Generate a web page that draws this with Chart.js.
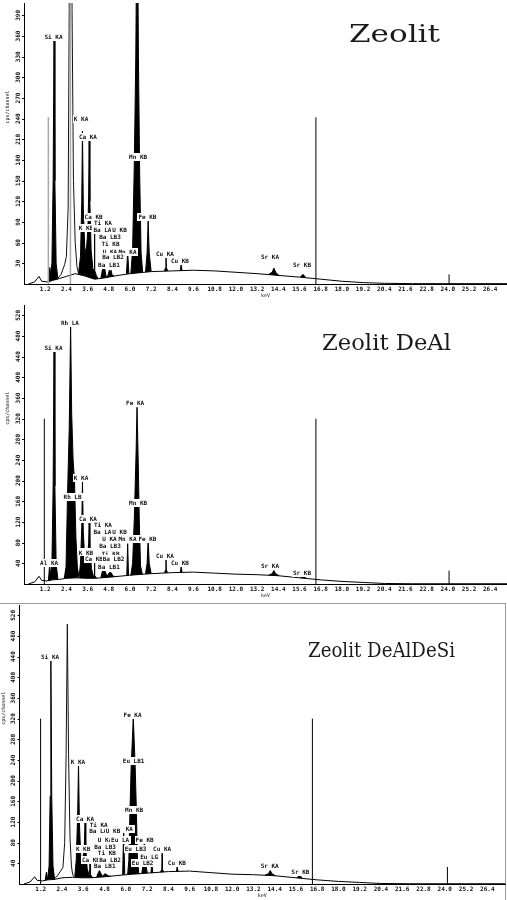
<!DOCTYPE html>
<html>
<head>
<meta charset="utf-8">
<script src="https://cdn.jsdelivr.net/npm/chart.js@4.4.1/dist/chart.umd.min.js"></script>
<style>
  html, body { margin: 0; padding: 0; background: #fff; }
  #wrap { position: relative; width: 507px; height: 900px; overflow: hidden; }
  #wrap canvas { position: absolute; left: 0; }
  .ttl { position: absolute; font-family: 'DejaVu Serif', 'Liberation Serif', serif; color: #1a1a1a;
         white-space: nowrap; line-height: 1; transform-origin: 0 0; }
  #frame { position: absolute; left: 0; top: 603px; width: 505px; height: 296px;
           border-top: 1px solid #9a9a9a; border-right: 1px solid #9a9a9a; }
</style>
</head>
<body>
<div id="wrap">
  <div id="frame"></div>
  <canvas id="c1" width="507" height="300" style="top:0px"></canvas>
  <canvas id="c2" width="507" height="300" style="top:300px"></canvas>
  <canvas id="c3" width="507" height="300" style="top:600px"></canvas>
  <div class="ttl" id="t1">Zeolit</div>
  <div class="ttl" id="t2">Zeolit DeAl</div>
  <div class="ttl" id="t3">Zeolit DeAlDeSi</div>
</div>
<script>
// ---- axis ticks (keV and cps/channel) ----
const xTickLabels = ['1.2','2.4','3.6','4.8','6.0','7.2','8.4','9.6','10.8','12.0','13.2','14.4',
                     '15.6','16.8','18.0','19.2','20.4','21.6','22.8','24.0','25.2','26.4'];
const yTicksZeolit = [30,60,90,120,150,180,210,240,270,300,330,360,390];
const yTicksDeAl   = [40,80,120,160,200,240,280,320,360,400,440,480,520];

// ---- Zeolit: spectrum [keV, cps/channel] ----
const background1 = [[0.25,0],[0.6,3],[0.85,11],[1.0,4],[1.3,3],[1.6,5],[2.0,8],[2.4,11],[2.9,15],[3.4,12],
  [4.0,7],[4.6,9],[5.2,12],[6.0,15],[7.2,18],[8.4,19],[9.6,20],[10.8,19],[12.0,17],[13.2,15],[14.4,12.5],
  [15.6,10],[16.8,7],[18.0,4],[19.2,2],[20.4,1],[22.0,0.5],[27.6,0.5]];
const peaks1 = [
  [[1.40,3],[1.46,24],[1.52,4]],
  [[1.45,4],[1.58,30],[1.65,150],[1.70,354],[1.75,150],[1.82,30],[1.92,7]],
  [[3.08,14],[3.20,40],[3.27,120],[3.31,222],[3.36,110],[3.45,45],[3.55,55],[3.62,80],[3.66,130],[3.69,208],
   [3.73,120],[3.80,50],[3.90,22],[3.97,20],[3.99,97],[4.01,20],[4.10,12],[4.20,8]],
  [[4.35,8],[4.45,22],[4.47,56],[4.49,24],[4.51,28],[4.57,22],[4.66,10],[4.75,12],[4.83,20],[4.88,16],[4.93,20],[5.00,12],[5.10,12]],
  [[5.80,15],[5.87,47],[5.94,15]],
  [[6.05,15],[6.15,50],[6.25,180],[6.33,330],[6.41,600],[6.48,330],[6.55,160],[6.63,45],[6.72,17]],
  [[6.88,17],[6.97,45],[7.03,92],[7.09,45],[7.20,18]],
  [[7.95,19],[8.02,24],[8.04,38],[8.06,24],[8.14,19]],
  [[8.85,19],[8.90,30],[8.95,19]],
  [[13.85,14],[14.05,17],[14.15,23],[14.25,17],[14.45,12]],
  [[15.65,10],[15.80,14],[15.95,9.5]]
];
const scatter1 = [[1.90,8],[2.10,14],[2.30,28],[2.40,40],[2.50,110],[2.56,400],[2.64,800],[2.72,400],[2.80,150],
  [2.90,60],[3.00,25],[3.10,14]];
const markersGrey1 = [[1.38,242],[2.63,800]];
const markers1 = [[16.53,242],[24.07,14]];
const labels1 = [
  ['Si KA',1.67,358],['K KA',3.23,239],['Ca KA',3.62,213],['Mn KB',6.46,184],['Ca KB',3.94,97],['Fe KB',6.99,97],
  ['Ti KA',4.47,88],['K KB',3.51,82],['Ba LA',4.44,78],['U KB',5.41,78],['Ba LB3',4.87,68],['Ti KB',4.90,58],
  ['U KA',4.87,47],['Mn KA',5.86,47],['Ba LB2',5.04,39],['Ba LB1',4.81,27],['Cu KA',7.98,43],['Cu KB',8.83,33],
  ['Sr KA',13.93,39],['Sr KB',15.74,27]
];

// ---- Zeolit DeAl ----
const background2 = [[0.25,0],[0.6,4],[0.85,15],[1.0,7],[1.3,6],[1.6,8],[2.0,9],[2.4,11],[3.0,12],[3.5,11],
  [4.0,11],[4.8,13],[6.0,17],[7.2,20],[8.4,22],[9.6,23],[10.8,21],[12.0,19],[13.2,18],[14.4,16],[15.6,12],
  [16.8,8],[18.0,5],[19.2,3],[20.4,1],[22.0,0.5],[27.6,0.5]];
const peaks2 = [
  [[1.38,6],[1.45,36],[1.52,7]],
  [[1.45,6],[1.58,40],[1.65,190],[1.70,452],[1.75,190],[1.82,40],[1.92,8]],
  [[2.28,11],[2.38,33],[2.47,180],[2.56,300],[2.64,500],[2.70,330],[2.78,240],[2.86,200],[2.94,90],[3.02,33],[3.10,15]],
  [[3.12,14],[3.20,40],[3.27,110],[3.31,200],[3.36,100],[3.45,40],[3.55,45],[3.62,60],[3.66,80],[3.69,120],
   [3.73,70],[3.82,30],[3.92,16],[3.97,16],[3.99,55],[4.01,16],[4.12,11]],
  [[4.35,12],[4.45,26],[4.47,90],[4.49,28],[4.53,32],[4.60,24],[4.70,15],[4.83,22],[4.93,22],[5.05,15],[5.15,15]],
  [[5.82,17],[5.87,78],[5.92,17]],
  [[6.05,17],[6.15,40],[6.25,130],[6.35,260],[6.40,342],[6.46,250],[6.53,120],[6.60,35],[6.70,19]],
  [[6.88,20],[6.97,40],[7.03,86],[7.09,40],[7.20,20]],
  [[7.95,22],[8.02,27],[8.04,50],[8.06,27],[8.14,22]],
  [[8.85,23],[8.90,33],[8.95,23]],
  [[13.85,17],[14.05,20],[14.15,26],[14.25,20],[14.45,16]],
  [[15.65,12],[15.80,17],[15.95,12]]
];
const markers2 = [[1.15,320],[16.53,320],[24.07,26]];
const labels2 = [
  ['Al KA',1.42,41],['Si KA',1.67,456],['Rh LA',2.60,505],['K KA',3.23,206],['Rh LB',2.75,168],['Ca KA',3.62,125],
  ['Fe KA',6.29,350],['Mn KB',6.46,156],['Ti KA',4.47,114],['Ba LA',4.44,101],['U KB',5.41,101],['U KA',4.84,87],
  ['Mn KA',5.86,87],['Fe KB',6.99,87],['Ba LB3',4.87,73],['K KB',3.51,61],['Ti KB',4.90,59],['Ca KB',3.96,48],
  ['Ba LB2',5.07,48],['Ba LB1',4.81,33],['Cu KA',7.98,54],['Cu KB',8.83,40],['Sr KA',13.93,34],['Sr KB',15.74,21]
];

// ---- Zeolit DeAlDeSi ----
const background3 = [[0.25,0],[0.6,4],[0.85,14],[1.0,7],[1.3,6],[1.6,8],[2.0,9],[2.4,12],[3.0,13],[3.5,12],
  [4.0,12],[4.8,14],[6.0,18],[7.2,21],[8.4,24],[9.6,25],[10.8,22],[12.0,19],[13.2,18],[14.4,16],[15.6,12],
  [16.8,8],[18.0,5],[19.2,3],[20.4,1],[22.0,0.5],[27.6,0.5]];
const peaks3 = [
  [[1.45,7],[1.52,23],[1.58,8]],
  [[1.58,8],[1.67,35],[1.73,170],[1.77,434],[1.82,170],[1.89,35],[1.98,9]],
  [[3.12,15],[3.20,45],[3.28,130],[3.33,233],[3.38,120],[3.46,50],[3.55,45],[3.62,60],[3.66,75],[3.70,120],
   [3.74,70],[3.82,30],[3.92,18],[3.96,18],[3.98,45],[4.00,18],[4.12,13]],
  [[4.35,13],[4.45,22],[4.51,26],[4.57,22],[4.68,15],[4.83,20],[4.93,18],[5.05,15],[5.15,15]],
  [[5.82,18],[5.88,107],[5.94,18]],
  [[6.10,18],[6.17,45],[6.24,150],[6.30,225],[6.37,280],[6.42,323],[6.47,280],[6.53,225],[6.59,150],[6.66,45],[6.74,19]],
  [[6.90,20],[6.98,40],[7.05,85],[7.11,40],[7.22,21]],
  [[7.42,21],[7.47,46],[7.52,21]],
  [[7.95,23],[8.03,28],[8.05,59],[8.07,28],[8.15,23]],
  [[8.85,24],[8.90,33],[8.95,24]],
  [[13.85,17],[14.05,20],[14.15,26],[14.25,20],[14.45,16]],
  [[15.65,12],[15.80,17],[15.95,12]]
];
const scatter3 = [[1.90,9],[2.10,14],[2.30,24],[2.45,32],[2.55,80],[2.63,250],[2.70,503],[2.77,250],[2.85,90],
  [2.93,35],[3.00,18],[3.10,13]];
const markers3 = [[1.19,320],[16.53,320],[24.15,33]];
const labels3 = [
  ['Si KA',1.73,439],['K KA',3.30,237],['Ca KA',3.70,125],['Fe KA',6.38,328],['Eu LB1',6.44,238],['Mn KB',6.47,144],
  ['Mn KA',5.89,107],['Ti KA',4.47,114],['Ba LA',4.44,103],['U KB',5.28,103],['U KA',4.83,85],['Eu LA',5.68,85],
  ['Fe KB',7.06,85],['Ba LB3',4.83,72],['K KB',3.59,68],['Eu LB3',6.55,67],['Cu KA',8.05,67],['Ti KB',4.93,60],
  ['Eu LG',7.32,53],['Ca KB',4.03,47],['Ba LB2',5.11,47],['Eu LB2',6.95,41],['Cu KB',8.88,41],['Ba LB1',4.81,34],
  ['Sr KA',14.12,34],['Sr KB',15.85,23]
];

// ---- helpers ----
const pts = arr => arr.map(([x, y]) => ({ x, y }));
function joinSegments(list) {
  const out = [];
  list.forEach((seg, i) => {
    if (i > 0) out.push({ x: seg[0][0], y: null });
    seg.forEach(([x, y]) => out.push({ x, y }));
  });
  return out;
}
function stems(list) {
  const out = [];
  list.forEach(([x, h], i) => {
    if (i > 0) out.push({ x, y: null });
    out.push({ x, y: 0 }, { x, y: h });
  });
  return out;
}

const MONO = '"DejaVu Sans Mono", "Liberation Mono", monospace';

function annotations(yTicks, labels) {
  return {
    id: 'annot',
    afterDatasetsDraw(chart) {
      const { ctx, chartArea: a, scales: { x, y } } = chart;
      ctx.save();
      ctx.fillStyle = '#111';
      ctx.textAlign = 'center';
      ctx.textBaseline = 'middle';
      // rotated count ticks
      ctx.font = 'bold 6px ' + MONO;
      yTicks.forEach(v => {
        const py = y.getPixelForValue(v);
        ctx.save();
        ctx.translate(a.left - 6, py);
        ctx.rotate(-Math.PI / 2);
        ctx.fillText(String(v), 0, 0);
        ctx.restore();
        ctx.fillRect(a.left - 2, Math.round(py), 2, 1);
      });
      // axis title
      ctx.save();
      ctx.font = '5px ' + MONO;
      ctx.translate(a.left - 16, a.top + (a.bottom - a.top) * 0.37);
      ctx.rotate(-Math.PI / 2);
      ctx.fillText('cps/channel', 0, 0);
      ctx.restore();
      // element line labels
      ctx.font = 'bold 6px ' + MONO;
      labels.forEach(([t, e, c]) => {
        const px = x.getPixelForValue(e), py = y.getPixelForValue(c);
        const w = ctx.measureText(t).width;
        ctx.fillStyle = '#fff';
        ctx.fillRect(Math.round(px - w / 2 - 1), Math.round(py - 4), Math.ceil(w + 2), 8);
        ctx.fillStyle = '#111';
        ctx.fillText(t, px, py + 0.5);
      });
      ctx.restore();
    }
  };
}

function spectrum(id, cfg) {
  const datasets = [
    { data: pts(cfg.background), borderColor: '#000', borderWidth: 1, pointRadius: 0, fill: false, order: 3 },
    { data: joinSegments(cfg.peaks), borderColor: '#000', backgroundColor: '#000', borderWidth: 1,
      pointRadius: 0, spanGaps: false, fill: 0, order: 2 },
    { data: stems(cfg.markers), borderColor: '#000', borderWidth: 1, pointRadius: 0, spanGaps: false, fill: false, order: 1 }
  ];
  if (cfg.scatter) datasets.push({ data: pts(cfg.scatter), borderColor: '#111', borderWidth: 1,
    pointRadius: 0, fill: false, order: 1 });
  if (cfg.greyMarkers) datasets.push({ data: stems(cfg.greyMarkers), borderColor: '#a8a8a8', borderWidth: 1.5,
    pointRadius: 0, spanGaps: false, fill: false, order: 0 });

  new Chart(document.getElementById(id), {
    type: 'line',
    data: { datasets },
    options: {
      responsive: false, animation: false, devicePixelRatio: 1,
      elements: { line: { tension: 0 } },
      layout: { padding: { top: cfg.top, left: cfg.left, right: cfg.right, bottom: 0 } },
      plugins: { legend: { display: false }, tooltip: { enabled: false } },
      scales: {
        x: {
          type: 'linear', min: 0, max: cfg.xMax,
          afterBuildTicks: s => { s.ticks = xTickLabels.map(t => ({ value: parseFloat(t) })); },
          afterFit: s => { s.height = 16; },
          grid: { display: false, drawTicks: false },
          border: { display: true, color: '#000', width: 1 },
          ticks: { autoSkip: false, maxRotation: 0, minRotation: 0, padding: 2, color: '#111',
                   font: { family: MONO, size: 6, weight: 'bold' },
                   callback: (v, i) => xTickLabels[i] },
          title: { display: true, text: 'keV', color: '#111', padding: { top: 0, bottom: 1 },
                   font: { family: MONO, size: 5 } }
        },
        y: {
          type: 'linear', min: 0, max: cfg.yMax,
          afterFit: s => { s.width = 0; },
          ticks: { display: false },
          grid: { display: false, drawTicks: false },
          border: { display: true, color: '#000', width: 1 }
        }
      }
    },
    plugins: [annotations(cfg.yTicks, cfg.labels)]
  });
}

spectrum('c1', { background: background1, peaks: peaks1, scatter: scatter1, markers: markers1,
  greyMarkers: markersGrey1, labels: labels1, yTicks: yTicksZeolit, yMax: 408, xMax: 27.35,
  top: 3, left: 24, right: 0 });
spectrum('c2', { background: background2, peaks: peaks2, markers: markers2, labels: labels2,
  yTicks: yTicksDeAl, yMax: 540, xMax: 27.35, top: 5, left: 24, right: 0 });
spectrum('c3', { background: background3, peaks: peaks3, scatter: scatter3, markers: markers3, labels: labels3,
  yTicks: yTicksDeAl, yMax: 540, xMax: 27.4, top: 5, left: 19.5, right: 2 });

// panel headings, fitted to their boxes
function fitTitle(id, left, capTop, capH, width) {
  const el = document.getElementById(id);
  const size = capH / 0.729;
  el.style.fontSize = size + 'px';
  el.style.left = left + 'px';
  el.style.top = (capTop - 0.117 * size) + 'px';
  const natural = el.getBoundingClientRect().width;
  el.style.transform = 'scaleX(' + (width / natural) + ')';
}
fitTitle('t1', 349, 25, 18, 91);
fitTitle('t2', 322, 334, 16.5, 129);
fitTitle('t3', 308, 641, 15.5, 147);
</script>
</body>
</html>
